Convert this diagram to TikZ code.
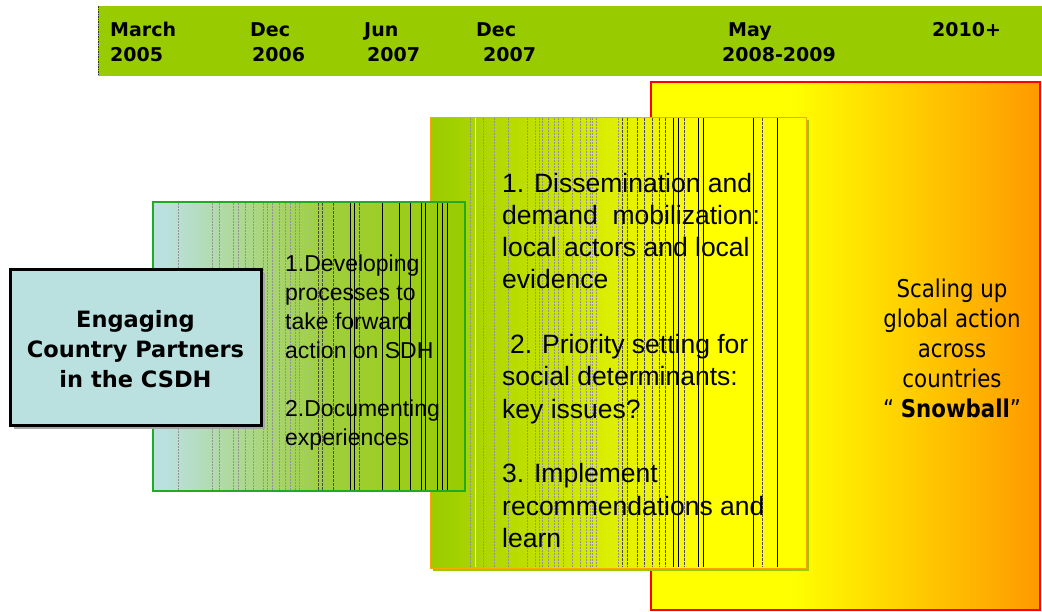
\documentclass[tikz,border=0pt]{standalone}
\usepackage{fontspec}
\setmainfont{Liberation Sans}
\newfontfamily\dvfont{DejaVu Sans}
\newfontfamily\tahfont[FakeStretch=0.87]{DejaVu Sans}
\definecolor{barg}{HTML}{99CC00}
\definecolor{lblue}{HTML}{BAE0E0}
\definecolor{org}{HTML}{FF9900}
\definecolor{yel}{HTML}{FFFF00}
\definecolor{midg}{HTML}{9FCF40}
\definecolor{lmborder}{HTML}{22AA22}
\definecolor{mborder}{HTML}{FFA500}
\pgfdeclarehorizontalshading{rightsh}{100bp}{color(0bp)=(yel); color(25bp)=(yel); color(43bp)=(yel); color(75bp)=(org); color(100bp)=(org)}
\pgfdeclarehorizontalshading{midsh}{100bp}{color(0bp)=(barg); color(25bp)=(barg); color(61bp)=(yel); color(75bp)=(yel); color(100bp)=(yel)}
\pgfdeclarehorizontalshading{lmsh}{100bp}{color(0bp)=(lblue); color(27bp)=(lblue); color(52bp)=(midg); color(75bp)=(barg); color(100bp)=(barg)}
\newcommand\Lft[2]{\vtop{\baselineskip=#1\lineskiplimit=-100pt\lineskip=0pt\halign{##\hfil\cr#2\crcr}}}
\newcommand\Ctr[2]{\vtop{\baselineskip=#1\lineskiplimit=-100pt\lineskip=0pt\halign{\hfil##\hfil\cr#2\crcr}}}
\begin{document}
\begin{tikzpicture}[x=1pt,y=-1pt,
  artg/.style={gray!85, line width=0.45pt, dash pattern=on 2pt off 1pt},
  artkd/.style={black!70, line width=0.45pt, dash pattern=on 3pt off 1pt},
  artk/.style={black, line width=0.6pt},
  datestyle/.style={anchor=base west, inner sep=0pt, font=\dvfont\bfseries\fontsize{19}{24}\selectfont},
  txt/.style={inner sep=0pt}]
\useasboundingbox (0,0) rectangle (1042,611);
% right box
\shade[shading=rightsh] (651,82) rectangle (1040,610);
\draw[red, line width=1.5pt] (651,82) rectangle (1040,610);
% middle box
\fill[barg] (433,120) rectangle (809,571);
\shade[shading=midsh] (430,117) rectangle (806,568);
\foreach \x in {470,483,494,508,527,535,539,542,548,554,558,563,572,580,586,590,592,596,618}
  \draw[artg] (\x,118) -- (\x,567);
\draw[white, line width=0.8pt] (475,118) -- (475,567);
\foreach \x in {622,627,637,644,652,659,665,684,762}
  \draw[artkd] (\x,118) -- (\x,567);
\foreach \x in {673,678,698,703,753,777}
  \draw[artk] (\x,118) -- (\x,567);
\draw[mborder, line width=1pt] (430,117) rectangle (806,568);
% left-middle box
\shade[shading=lmsh] (153,202) rectangle (465,491);
\foreach \x in {178,212,219,233,238,245,253,263,267,272,279,285,290,295,299}
  \draw[artg] (\x,203) -- (\x,490);
\foreach \x in {318,322,333,359}
  \draw[artkd] (\x,203) -- (\x,490);
\foreach \x in {350,354,382,399,410,421,425,437,442,447}
  \draw[artk] (\x,203) -- (\x,490);
\draw[lmborder, line width=1.2pt] (153,202) rectangle (465,491);
% blue box
\fill[gray!70] (14,273) rectangle (265,429);
\draw[fill=lblue, line width=3pt] (10,269) rectangle (261,425);
% top bar
\fill[barg] (98,6) rectangle (1042,76);
\draw[black!80, line width=1pt, dash pattern=on 1.5pt off 1pt] (98.5,6) -- (98.5,76);
% dates
\node[datestyle] (d1a) at (110,36) {March};
\node[datestyle] (d1b) at (110,61) {2005};
\node[datestyle] (d2a) at (250,36) {Dec};
\node[datestyle] (d2b) at (252,61) {2006};
\node[datestyle] (d3a) at (364,36) {Jun};
\node[datestyle] (d3b) at (367,61) {2007};
\node[datestyle] (d4a) at (476,36) {Dec};
\node[datestyle] (d4b) at (483,61) {2007};
\node[datestyle] (d5a) at (728,36) {May};
\node[datestyle] (d5b) at (722,61) {2008-2009};
\node[datestyle] (d6) at (932,36) {2010+};
% texts
\node[txt, anchor=base, font=\dvfont\bfseries\fontsize{22.5}{30}\selectfont] (eng) at (135.5,327)
  {\Ctr{30pt}{Engaging\cr Country Partners\cr in the CSDH}};
\node[txt, anchor=base west, font=\fontsize{23}{29}\selectfont] (lmtext) at (285,271)
  {\Lft{29pt}{1.Developing\cr processes to\cr take forward\cr action on SDH\cr\cr 2.Documenting\cr experiences}};
\node[txt, anchor=base west, font=\fontsize{26.5}{32}\selectfont] (mtext) at (502,192)
  {\Lft{32.3pt}{1. Dissemination and\cr demand\ \ mobilization:\cr local actors and local\cr evidence\cr\cr \hskip8pt 2. Priority setting for\cr social determinants:\cr key issues?\cr\cr 3. Implement\cr recommendations and\cr learn}};
\node[txt, anchor=base, font=\tahfont\fontsize{24.5}{30}\selectfont] (rtext) at (952,297)
  {\Ctr{30pt}{Scaling up\cr global action\cr across\cr countries\cr “ \textbf{Snowball}”}};
\end{tikzpicture}
\end{document}
